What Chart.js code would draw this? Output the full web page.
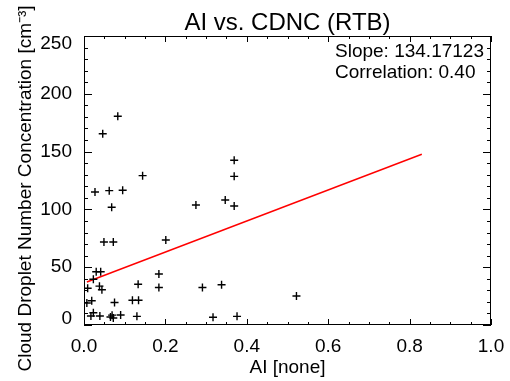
<!DOCTYPE html>
<html><head><meta charset="utf-8">
<script src="https://cdn.jsdelivr.net/npm/chart.js@4/dist/chart.umd.min.js"></script>
<style>html,body{margin:0;padding:0;background:#fff}#c{display:block}</style>
</head><body>
<canvas id="c" width="510" height="381"></canvas>
<script>
// AI (x) and CDNC (y) values
const aiValues = [0.083,0.046,0.144,0.369,0.369,0.027,0.062,0.095,0.068,0.275,0.347,0.369,0.049,0.072,0.201,0.030,0.041,0.184,0.023,0.009,0.038,0.044,0.133,0.184,0.291,0.338,0.007,0.019,0.075,0.119,0.134,0.023,0.017,0.039,0.065,0.069,0.072,0.090,0.130,0.317,0.376,0.522];
const cdncValues = [180.6,165.5,129.2,142.5,128.6,115.1,116.2,116.6,101.8,103.8,108.1,102.9,71.8,71.8,73.5,46.0,46.0,44.1,39.6,31.8,33.6,30.5,35.2,32.4,32.4,34.8,19.0,21.0,19.5,21.4,21.4,10.6,7.8,7.8,6.9,8.5,6.1,8.6,7.5,6.7,7.5,25.1];
// regression line end points
const fitX = [0.007, 0.83];
const fitY = [37.2, 147.7];
// axis ticks
const xMajorTicks = [0, 0.2, 0.4, 0.6, 0.8, 1.0];
const xMinorTicks = [0.05,0.1,0.15,0.25,0.3,0.35,0.45,0.5,0.55,0.65,0.7,0.75,0.85,0.9,0.95];
const yMajorTicks = [0, 50, 100, 150, 200, 250];
const yMinorTicks = [10,20,30,40,60,70,80,90,110,120,130,140,160,170,180,190,210,220,230,240];
const statLabels = ['Slope: 134.17123', 'Correlation: 0.40'];
const titleText = 'AI vs. CDNC (RTB)';
const xTitle = 'AI [none]';
const yTitle = 'Cloud Droplet Number Concentration [cm\u207B\u00B3]   ';

const FONT = "'Liberation Sans', Arial, Helvetica, sans-serif";
Chart.defaults.font.family = FONT;
Chart.defaults.color = '#000';
const yFirst = yMajorTicks[0], yLast = yMajorTicks[yMajorTicks.length - 1];

const frame = {
  id: 'frame',
  afterDatasetsDraw(chart) {
    const {ctx, chartArea: a, scales: {x, y}} = chart;
    ctx.save();
    ctx.strokeStyle = '#000';
    ctx.lineWidth = 1;
    ctx.strokeRect(a.left + 0.5, a.top + 0.5, a.right - a.left - 1, a.bottom - a.top - 1);
    ctx.beginPath();
    const xt = (v, len) => {
      const p = Math.round(x.getPixelForValue(v)) + 0.5;
      ctx.moveTo(p, a.bottom); ctx.lineTo(p, a.bottom - len);
      ctx.moveTo(p, a.top); ctx.lineTo(p, a.top + len);
    };
    const yt = (v, len) => {
      const p = Math.round(y.getPixelForValue(v)) + 0.5;
      ctx.moveTo(a.left, p); ctx.lineTo(a.left + len, p);
      ctx.moveTo(a.right, p); ctx.lineTo(a.right - len, p);
    };
    xMajorTicks.forEach(v => xt(v, 6));
    xMinorTicks.forEach(v => xt(v, 3));
    yMajorTicks.forEach(v => yt(v, 8));
    yMinorTicks.forEach(v => yt(v, 4));
    ctx.stroke();
    ctx.fillStyle = '#000';
    ctx.font = '19px ' + FONT;
    ctx.textAlign = 'left';
    ctx.textBaseline = 'alphabetic';
    statLabels.forEach((t, i) => ctx.fillText(t, a.right - 156, a.top + 21 + i * 21));
    ctx.restore();
  }
};

new Chart(document.getElementById('c'), {
  type: 'scatter',
  data: {
    datasets: [
      {
        data: aiValues.map((v, i) => ({x: v, y: cdncValues[i]})),
        pointStyle: 'cross', pointRadius: 4, borderColor: '#000', backgroundColor: '#000',
        pointBorderWidth: 1.4, pointHoverRadius: 4
      },
      {
        type: 'line',
        data: fitX.map((v, i) => ({x: v, y: fitY[i]})),
        borderColor: '#ff0000', borderWidth: 1.4, pointRadius: 0, fill: false
      }
    ]
  },
  options: {
    responsive: false, animation: false, devicePixelRatio: 1,
    layout: {padding: {left: 0, right: 19, top: 0, bottom: 0}},
    plugins: {
      legend: {display: false},
      tooltip: {enabled: false},
      title: {
        display: true, text: titleText, fullSize: false, color: '#000',
        font: {size: 24, weight: 'normal', lineHeight: 1},
        padding: {top: 11, bottom: 1}
      }
    },
    scales: {
      x: {
        type: 'linear', min: 0, max: 1,
        afterFit(s) { s.height = 56; },
        grid: {display: false}, border: {display: false},
        ticks: {stepSize: 0.2, padding: 2, font: {size: 19}, color: '#000', maxRotation: 0,
          callback: v => Number(v).toFixed(1)},
        title: {display: true, text: xTitle, font: {size: 19, lineHeight: 1}, color: '#000', padding: {top: 0, bottom: 4}}
      },
      y: {
        type: 'linear', min: 0, max: 250,
        afterFit(s) { s.width = 84; },
        grid: {display: false}, border: {display: false},
        ticks: {
          stepSize: 50, padding: 4, color: '#000',
          callback: v => v === yLast ? ['', String(v)] : v === yFirst ? [String(v), ''] : String(v),
          font: c => {
            const v = c.tick ? c.tick.value : null;
            return {size: 19, lineHeight: v === yLast ? 15 / 19 : v === yFirst ? 12 / 19 : 1.2};
          }
        },
        title: {display: true, text: yTitle, font: {size: 19, lineHeight: 1}, color: '#000', padding: {top: 16, bottom: 0}}
      }
    }
  },
  plugins: [frame]
});
</script>
</body></html>
